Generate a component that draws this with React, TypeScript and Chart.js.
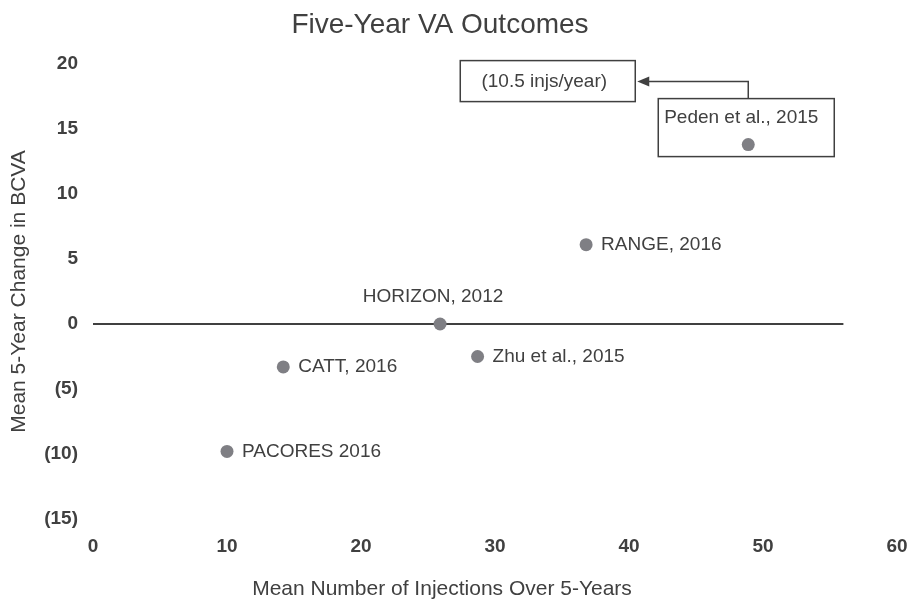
import React, { useEffect, useRef } from 'react';
import { Chart, registerables } from 'chart.js';

Chart.register(...registerables);

// ---- data ----
const studyNames = [
  'PACORES 2016',
  'CATT, 2016',
  'HORIZON, 2012',
  'Zhu et al., 2015',
  'RANGE, 2016',
  'Peden et al., 2015',
];
const meanInjections = [10.0, 14.2, 25.9, 28.7, 36.8, 48.9];
const bcvaChange = [-9.8, -3.3, 0, -2.5, 6.1, 13.8];
const labelPlacement = ['right', 'right', 'top', 'right', 'right', 'boxed'];

const zeroLineX = [0, 56];
const zeroLineY = [0, 0];

const xTicks = { min: 0, max: 60, step: 10 };
const yTicks = { min: -15, max: 20, step: 5 };

const chartTitle = 'Five-Year VA Outcomes';
const xAxisTitle = 'Mean Number of Injections Over 5-Years';
const yAxisTitle = 'Mean 5-Year Change in BCVA';
const calloutText = '(10.5 injs/year)';
const calloutStudy = 'Peden et al., 2015';

// ---- style ----
const FONT = '"Liberation Sans", Arial, Helvetica, sans-serif';
const TEXT = '#404040';
const POINT = '#7f7f84';

const annotationPlugin = {
  id: 'pointAnnotations',
  afterDatasetsDraw(chart: any) {
    const ctx: CanvasRenderingContext2D = chart.ctx;
    const meta = chart.getDatasetMeta(0);
    ctx.save();
    ctx.font = `19px ${FONT}`;
    ctx.fillStyle = TEXT;
    ctx.strokeStyle = TEXT;
    meta.data.forEach((el: any, i: number) => {
      const x = el.x;
      const y = el.y;
      const place = labelPlacement[i];
      if (place === 'right') {
        ctx.textAlign = 'left';
        ctx.textBaseline = 'middle';
        ctx.fillText(studyNames[i], x + 15, y);
      } else {
        ctx.textAlign = 'center';
        ctx.textBaseline = 'middle';
        ctx.fillText(studyNames[i], x - 7, y - 27);
      }
      if (place === 'boxed' && studyNames[i] === calloutStudy) {
        ctx.lineWidth = 1.5;
        // box around label + point
        ctx.strokeRect(x - 90, y - 46, 176, 58);
        // callout box
        ctx.strokeRect(x - 288, y - 84, 175, 41);
        ctx.textAlign = 'center';
        ctx.fillText(calloutText, x - 204, y - 63);
        // elbow arrow
        const tipX = x - 111;
        const armY = y - 63;
        ctx.beginPath();
        ctx.moveTo(x, y - 46);
        ctx.lineTo(x, armY);
        ctx.lineTo(tipX + 10, armY);
        ctx.stroke();
        ctx.beginPath();
        ctx.moveTo(tipX, armY);
        ctx.lineTo(tipX + 12, armY - 5);
        ctx.lineTo(tipX + 12, armY + 5);
        ctx.closePath();
        ctx.fill();
      }
    });
    ctx.restore();
  },
  afterDraw(chart: any) {
    const ctx: CanvasRenderingContext2D = chart.ctx;
    ctx.save();
    ctx.fillStyle = TEXT;
    ctx.textAlign = 'center';
    ctx.textBaseline = 'alphabetic';
    ctx.font = `28px ${FONT}`;
    ctx.fillText(chartTitle, 440, 33);
    ctx.font = `21px ${FONT}`;
    ctx.fillText(xAxisTitle, 442, 595);
    ctx.restore();
  },
};

const formatY = (v: number) => (v < 0 ? `(${-v})` : `${v}`);

export default function App() {
  const canvasRef = useRef<HTMLCanvasElement | null>(null);

  useEffect(() => {
    if (!canvasRef.current) return;
    const chart = new Chart(canvasRef.current, {
      type: 'scatter',
      data: {
        datasets: [
          {
            type: 'scatter',
            label: 'Studies',
            data: meanInjections.map((x, i) => ({ x, y: bcvaChange[i] })),
            backgroundColor: POINT,
            borderColor: POINT,
            pointRadius: 6.5,
            pointHoverRadius: 6.5,
            borderWidth: 0,
          },
          {
            type: 'line',
            label: 'zero',
            data: zeroLineX.map((x, i) => ({ x, y: zeroLineY[i] })),
            borderColor: TEXT,
            borderWidth: 2,
            pointRadius: 0,
            fill: false,
          } as any,
        ],
      },
      options: {
        animation: false,
        responsive: false,
        layout: { padding: { top: 64, right: 0, bottom: 0, left: 0 } },
        plugins: {
          legend: { display: false },
          tooltip: { enabled: false },
          title: { display: false },
        },
        scales: {
          x: {
            type: 'linear',
            min: xTicks.min,
            max: xTicks.max,
            grid: { display: false, drawTicks: false },
            border: { display: false },
            ticks: {
              stepSize: xTicks.step,
              padding: 16,
              color: TEXT,
              font: { family: FONT, size: 19, weight: 'bold' },
              maxRotation: 0,
            },
            afterFit: (scale: any) => {
              scale.height = 81;
              scale.paddingRight = 13;
            },
          },
          y: {
            type: 'linear',
            min: yTicks.min,
            max: yTicks.max,
            grid: { display: false, drawTicks: false },
            border: { display: false },
            ticks: {
              stepSize: yTicks.step,
              padding: 15,
              color: TEXT,
              font: { family: FONT, size: 19, weight: 'bold' },
              callback: (v: any) => formatY(Number(v)),
            },
            title: {
              display: true,
              text: yAxisTitle,
              color: TEXT,
              font: { family: FONT, size: 21 },
              padding: { top: 7, bottom: 0 },
            },
            afterFit: (scale: any) => {
              scale.width = 93;
            },
          },
        },
      },
      plugins: [annotationPlugin],
    });
    return () => chart.destroy();
  }, []);

  return (
    <div style={{ position: 'fixed', left: 0, top: 0, width: 910, height: 600, background: '#fff' }}>
      <canvas ref={canvasRef} width={910} height={600} style={{ display: 'block' }} />
    </div>
  );
}
